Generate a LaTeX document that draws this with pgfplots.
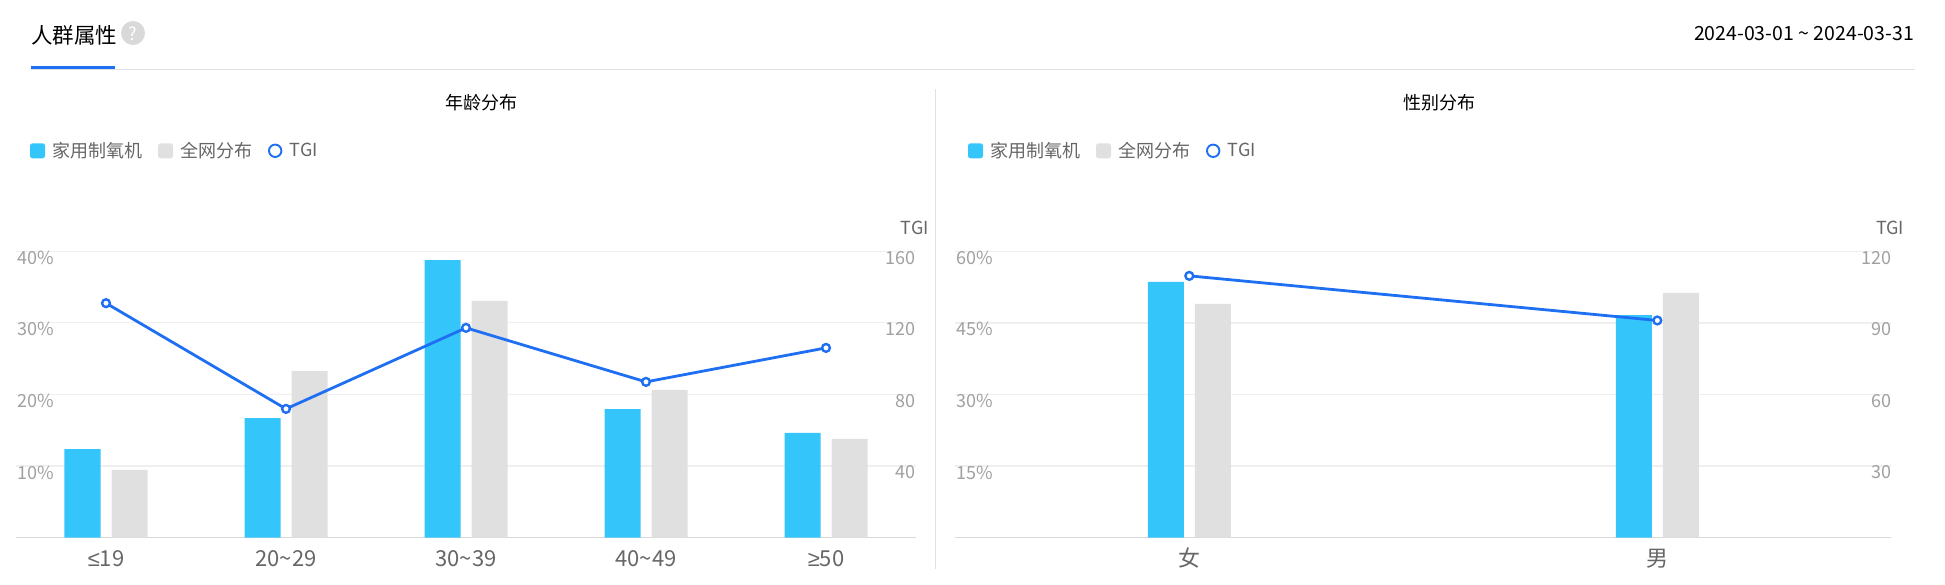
\documentclass[border=0pt]{standalone}
\usepackage{fontspec}
\usepackage{pgfplots}
\pgfplotsset{compat=1.18}
\setmainfont{Noto Sans CJK SC}
\newfontfamily\symf{Liberation Sans}
\definecolor{cblue}{HTML}{34C6FB}
\definecolor{cgray}{HTML}{E0E0E0}
\definecolor{cline}{HTML}{1F6FF2}
\definecolor{cgrid}{HTML}{EFEFEF}
\definecolor{caxis}{HTML}{D9D9D9}
\definecolor{ctick}{HTML}{A0A0A0}
\definecolor{ctext}{HTML}{666666}
\newcommand{\fs}[1]{\fontsize{#1}{#1}\selectfont}
\pgfplotsset{
  base/.style={
    scale only axis, height=286.2pt, anchor=south west,
    ymin=0, axis on top=false, clip=false,
    major tick length=0pt, tick style={draw=none},
    /pgf/number format/assume math mode=true,
  },
  leftax/.style={base,
    axis x line*=bottom, axis y line*=left,
    y axis line style={draw=none},
    x axis line style={draw=caxis,line width=1.5pt,-},
    ymajorgrids, grid style={draw=cgrid,line width=1.3pt},
    xtick=data,
    xticklabel style={font=\fs{22}, text=ctext, anchor=north, yshift=-14pt, inner sep=0pt, text height=15pt, text depth=5pt},
    yticklabel style={font=\fs{18}, text=ctick, anchor=west, inner sep=0pt, xshift=1pt, yshift=-6.5pt},
    yticklabel={\pgfmathprintnumber{\tick}\%},
    title style={font=\fs{18}, text=black, inner sep=0pt},
    legend style={draw=none, fill=none, font=\fs{18}, text=ctext, anchor=west,
      legend columns=-1, inner sep=0pt, outer sep=0pt,
      /tikz/every even column/.append style={column sep=16pt},
      nodes={inner sep=0pt}},
  },
  rightax/.style={base,
    axis x line=none, axis y line*=right,
    y axis line style={draw=none},
    yticklabel style={font=\fs{18}, text=ctick, anchor=east, inner sep=0pt, yshift=-6.5pt},
    every axis y label/.style={at={(rel axis cs:1,1)}, anchor=base east, xshift=13pt, yshift=17pt, font=\fs{18}, text=ctext, inner sep=0pt},
  },
  swatchA/.style={legend image code/.code={\fill[cblue,rounded corners=2.5pt] (0pt,-7.5pt) rectangle (15pt,7.5pt); \path (22pt,0pt);}},
  swatchB/.style={legend image code/.code={\fill[cgray,rounded corners=2.5pt] (0pt,-7.5pt) rectangle (15pt,7.5pt); \path (22pt,0pt);}},
  swatchC/.style={legend image code/.code={\draw[cline,line width=1.9pt,fill=white] (7pt,0pt) circle (6.2pt); \path (21.5pt,0pt);}},
  barA/.style={ybar, fill=cblue, draw=none, bar width=36pt, bar shift=-23.5pt, swatchA},
  barB/.style={ybar, fill=cgray, draw=none, bar width=36pt, bar shift=23.5pt, swatchB},
  tgi/.style={cline, line width=2.8pt, mark=*, mark size=3.9pt, mark options={fill=white, draw=cline, line width=2.4pt}},
}
\begin{document}
\begin{tikzpicture}[x=1pt,y=1pt]
\path (0,0) rectangle (1945,584);
% header
\node[anchor=west, inner sep=0pt, font=\fs{21.5}, text=black] at (31,548.5) {人群属性};
\fill[fill=black!15] (133,551) circle (12);
\node[font=\fs{18}, text=white, inner sep=0pt] at (133,550.5) {?};
\fill[caxis!80] (31,514) rectangle (1915,515.3);
\fill[cline] (31,515) rectangle (115,518);
\node[anchor=east, inner sep=0pt, font=\fs{19.5}, text=black] at (1914,550) {2024-03-01 \textasciitilde{} 2024-03-31};
\fill[caxis!80] (934.8,15) rectangle (936,495);

% age: share axis
\begin{axis}[leftax, at={(16pt,46.5pt)}, width=900pt,
  xmin=-0.5, xmax=4.5, ymax=40, ytick={10,20,30,40},
  xticklabels={{\symf ≤}19,20\textasciitilde 29,30\textasciitilde 39,40\textasciitilde 49,{\symf ≥}50},
  title={年龄分布}, title style={at={(0.5,1)}, anchor=center, xshift=15pt, yshift=143pt},
  legend style={at={(0.0156,1.3512)}},
]
\addplot[barA] coordinates {(0,12.35) (1,16.7) (2,38.77) (3,17.94) (4,14.63)};
\addlegendentry{家用制氧机}
\addplot[barB] coordinates {(0,9.46) (1,23.25) (2,33.08) (3,20.64) (4,13.8)};
\addlegendentry{全网分布}
\addlegendimage{swatchC}
\addlegendentry{TGI}
\end{axis}
% age: TGI axis
\begin{axis}[rightax, at={(16pt,46.5pt)}, width=900pt,
  xmin=-0.5, xmax=4.5, ymax=160, ytick={40,80,120,160}, ylabel={TGI}]
\addplot[tgi] coordinates {(0,131) (1,71.9) (2,117.2) (3,87) (4,106)};
\end{axis}

% gender: share axis
\begin{axis}[leftax, at={(955.3pt,46.5pt)}, width=936pt,
  xmin=-0.5, xmax=1.5, ymax=60, ytick={15,30,45,60},
  xticklabels={女,男},
  title={性别分布}, title style={at={(0.5,1)}, anchor=center, xshift=16pt, yshift=143pt},
  legend style={at={(0.0136,1.3512)}},
]
\addplot[barA] coordinates {(0,53.6) (1,46.6)};
\addlegendentry{家用制氧机}
\addplot[barB] coordinates {(0,49.0) (1,51.3)};
\addlegendentry{全网分布}
\addlegendimage{swatchC}
\addlegendentry{TGI}
\end{axis}
% gender: TGI axis
\begin{axis}[rightax, at={(955.3pt,46.5pt)}, width=936pt,
  xmin=-0.5, xmax=1.5, ymax=120, ytick={30,60,90,120}, ylabel={TGI}]
\addplot[tgi] coordinates {(0,109.7) (1,91)};
\end{axis}
\end{tikzpicture}
\end{document}
